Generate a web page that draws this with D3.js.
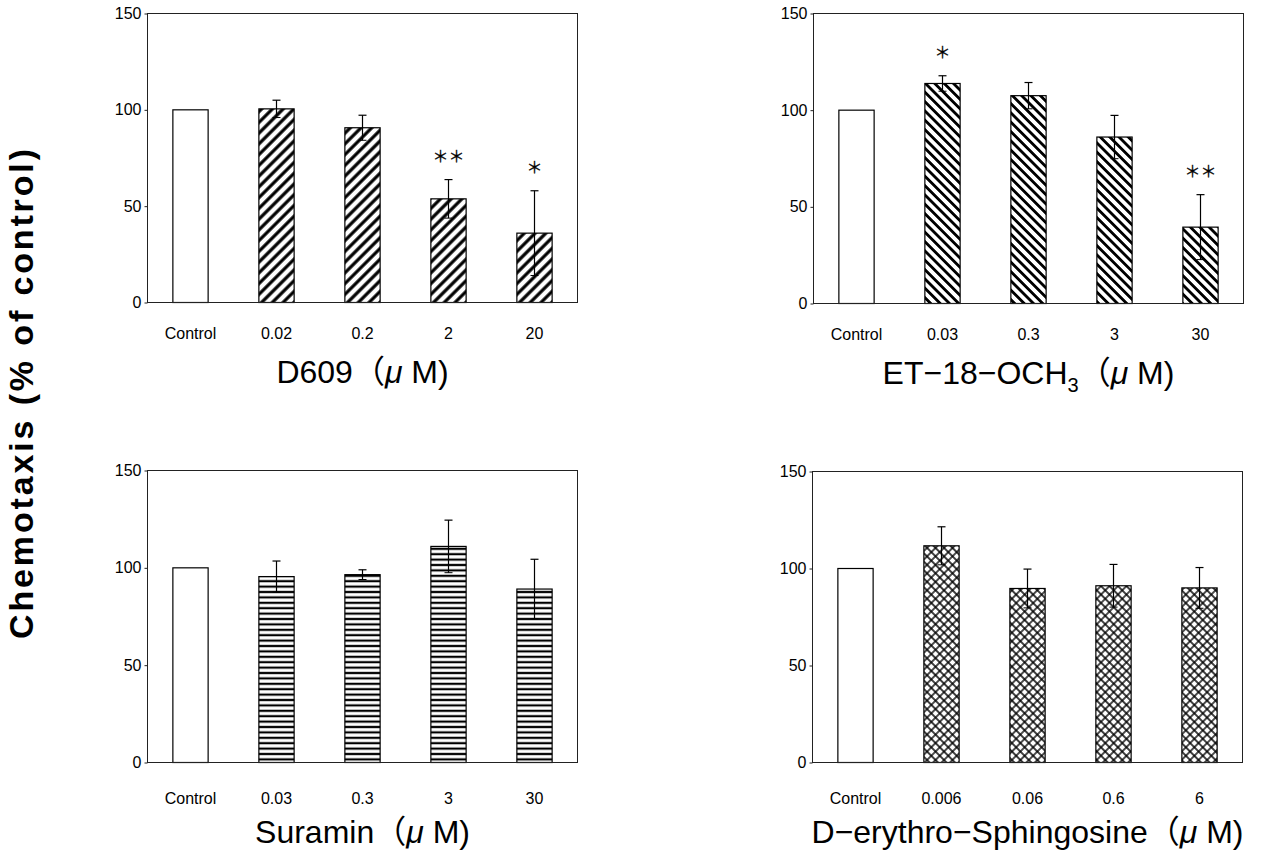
<!DOCTYPE html>
<html>
<head>
<meta charset="utf-8">
<script src="https://cdn.jsdelivr.net/npm/d3@7"></script>
<style>
  body { margin: 0; background: #fff; }
  svg text { font-family: "Liberation Sans", Arial, "Noto Sans CJK JP", sans-serif; fill: #000; }
</style>
</head>
<body>
<svg id="chart" width="1262" height="852"></svg>
<script>
// values (% of control, mean and error)
var yTicks = [0, 50, 100, 150];

var d609Doses = ["Control", "0.02", "0.2", "2", "20"];
var d609Mean  = [100, 100.5, 90.7, 53.8, 36];
var d609Err   = [0, 4.5, 6.5, 10, 22];
var d609Stars = ["", "", "", "＊＊", "＊"];
var d609Title = [["D609", ""], ["（", "cjk"], ["μ", "it"], [" M)", ""]];

var etDoses = ["Control", "0.03", "0.3", "3", "30"];
var etMean  = [100, 113.8, 107.5, 86.1, 39.5];
var etErr   = [0, 4, 6.8, 11.2, 16.8];
var etStars = ["", "＊", "", "", "＊＊"];
var etTitle = [["ET−18−OCH", ""], ["3", "sub"], ["（", "cjk"], ["μ", "it"], [" M)", ""]];

var suraminDoses = ["Control", "0.03", "0.3", "3", "30"];
var suraminMean  = [100, 95.5, 96.5, 111, 89.1];
var suraminErr   = [0, 8, 2.5, 13.5, 15.3];
var suraminStars = ["", "", "", "", ""];
var suraminTitle = [["Suramin", ""], ["（", "cjk"], ["μ", "it"], [" M)", ""]];

var sphDoses = ["Control", "0.006", "0.06", "0.6", "6"];
var sphMean  = [100, 111.7, 89.7, 91.1, 90];
var sphErr   = [0, 9.8, 10, 11, 10.5];
var sphStars = ["", "", "", "", ""];
var sphTitle = [["D−erythro−Sphingosine", ""], ["（", "cjk"], ["μ", "it"], [" M)", ""]];

var svg = d3.select("#chart");

// hatch patterns
var defs = svg.append("defs");
function hatch(id, size, angle, width, path) {
  defs.append("pattern")
      .attr("id", id)
      .attr("patternUnits", "userSpaceOnUse")
      .attr("width", size)
      .attr("height", size)
      .attr("patternTransform", "rotate(" + angle + ")")
    .append("path")
      .attr("d", path)
      .attr("stroke", "#000")
      .attr("stroke-width", width);
}
hatch("hatchUp", 7.6, 45, 3.2, "M3.8,0V7.6");
hatch("hatchDown", 6.6, -45, 2.8, "M3.3,0V6.6");
hatch("hatchH", 5.4, 0, 2.2, "M0,2.7H5.4");
hatch("crossHatch", 6, 45, 1.4, "M3,0V6M0,3H6");

var panels = [
  {doses: d609Doses, mean: d609Mean, err: d609Err, stars: d609Stars, title: d609Title,
   fill: "hatchUp", left: 147, top: 13, width: 430, height: 289, labelDy: 36},
  {doses: etDoses, mean: etMean, err: etErr, stars: etStars, title: etTitle,
   fill: "hatchDown", left: 813, top: 13, width: 430, height: 290, labelDy: 36},
  {doses: suraminDoses, mean: suraminMean, err: suraminErr, stars: suraminStars, title: suraminTitle,
   fill: "hatchH", left: 147, top: 470, width: 430, height: 292, labelDy: 41},
  {doses: sphDoses, mean: sphMean, err: sphErr, stars: sphStars, title: sphTitle,
   fill: "crossHatch", left: 812, top: 471, width: 430, height: 291, labelDy: 41}
];

panels.forEach(function(p) {
  var g = svg.append("g")
      .attr("transform", "translate(" + (p.left + 0.5) + "," + (p.top + 0.5) + ")");

  var x = d3.scaleBand()
      .domain(p.doses)
      .range([0, p.width])
      .paddingInner(0.59)
      .paddingOuter(0.295);
  var y = d3.scaleLinear()
      .domain([0, 150])
      .range([p.height, 0]);

  var rows = p.doses.map(function(d, i) {
    return {dose: d, mean: p.mean[i], err: p.err[i], star: p.stars[i], control: i == 0};
  });

  // bars: white base, then hatch on top
  g.selectAll("rect.base").data(rows).enter().append("rect")
      .attr("class", "base")
      .attr("x", function(d) { return x(d.dose); })
      .attr("y", function(d) { return y(d.mean); })
      .attr("width", x.bandwidth())
      .attr("height", function(d) { return y(0) - y(d.mean); })
      .attr("fill", "#fff");
  g.selectAll("rect.bar").data(rows).enter().append("rect")
      .attr("class", "bar")
      .attr("x", function(d) { return x(d.dose); })
      .attr("y", function(d) { return y(d.mean); })
      .attr("width", x.bandwidth())
      .attr("height", function(d) { return y(0) - y(d.mean); })
      .attr("fill", function(d) { return d.control ? "none" : "url(#" + p.fill + ")"; })
      .attr("stroke", "#000")
      .attr("stroke-width", 1.2);

  // error bars
  var eb = g.selectAll("g.err").data(rows.filter(function(d) { return d.err > 0; }))
    .enter().append("g").attr("class", "err")
      .attr("transform", function(d) { return "translate(" + (x(d.dose) + x.bandwidth() / 2) + ",0)"; });
  eb.append("line")
      .attr("y1", function(d) { return y(d.mean + d.err); })
      .attr("y2", function(d) { return y(d.mean - d.err); })
      .attr("stroke", "#000").attr("stroke-width", 1.2);
  eb.append("line")
      .attr("x1", -4).attr("x2", 4)
      .attr("y1", function(d) { return y(d.mean + d.err); })
      .attr("y2", function(d) { return y(d.mean + d.err); })
      .attr("stroke", "#000").attr("stroke-width", 1.2);
  eb.append("line")
      .attr("x1", -4).attr("x2", 4)
      .attr("y1", function(d) { return y(d.mean - d.err); })
      .attr("y2", function(d) { return y(d.mean - d.err); })
      .attr("stroke", "#000").attr("stroke-width", 1);

  // significance marks
  g.selectAll("text.star").data(rows.filter(function(d) { return d.star; }))
    .enter().append("text")
      .attr("class", "star")
      .attr("x", function(d) { return x(d.dose) + x.bandwidth() / 2; })
      .attr("y", function(d) { return y(d.mean + d.err) - 25; })
      .attr("text-anchor", "middle")
      .attr("dominant-baseline", "central")
      .style("font-family", "'Noto Sans CJK JP'")
      .style("font-size", "16px")
      .style("stroke", "#000")
      .style("stroke-width", 0.3)
      .text(function(d) { return d.star; });

  // frame
  g.append("rect")
      .attr("width", p.width)
      .attr("height", p.height)
      .attr("fill", "none")
      .attr("stroke", "#222")
      .attr("stroke-width", 1);

  // y axis
  var ax = g.append("g")
      .call(d3.axisLeft(y).tickValues(yTicks).tickSize(3).tickPadding(3).tickSizeOuter(0));
  ax.select(".domain").remove();
  ax.selectAll("text").style("font-size", "16px").style("font-family", "'Liberation Sans', Arial, sans-serif");
  ax.selectAll("line").attr("stroke", "#222");

  // category labels
  g.selectAll("text.cat").data(rows).enter().append("text")
      .attr("class", "cat")
      .attr("x", function(d) { return x(d.dose) + x.bandwidth() / 2; })
      .attr("y", p.height + p.labelDy)
      .attr("text-anchor", "middle")
      .style("font-size", "16px")
      .text(function(d) { return d.dose; });

  // axis title
  var t = g.append("text")
      .attr("x", p.width / 2)
      .attr("y", p.height + 80)
      .attr("text-anchor", "middle")
      .style("font-size", "32px");
  var shift = 0;
  p.title.forEach(function(seg) {
    var ts = t.append("tspan").text(seg[0]);
    if (seg[1] == "sub") {
      ts.attr("dy", 8).style("font-size", "20px");
      shift = 8;
      return;
    }
    if (shift) { ts.attr("dy", -shift); shift = 0; }
    if (seg[1] == "cjk") ts.style("font-family", "'Noto Sans CJK JP'");
    if (seg[1] == "it") ts.style("font-style", "italic");
  });
});

// shared y title
svg.append("text")
    .attr("transform", "translate(33,394) rotate(-90)")
    .attr("text-anchor", "middle")
    .attr("textLength", 490)
    .attr("lengthAdjust", "spacing")
    .style("font-size", "34px")
    .style("font-weight", "bold")
    .text("Chemotaxis (% of control)");
</script>
</body>
</html>
